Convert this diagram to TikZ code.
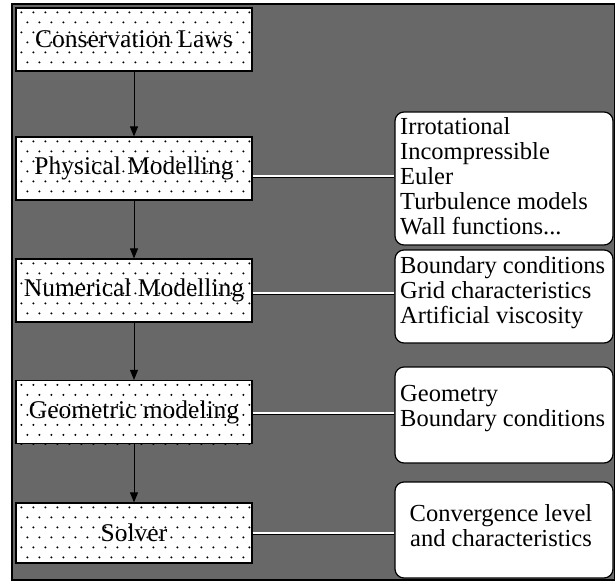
\documentclass[tikz,border=0pt]{standalone}
\usepackage{fontspec}
\setmainfont{Liberation Serif}
\usetikzlibrary{arrows.meta}
\definecolor{bggray}{RGB}{104,104,104}
\begin{document}
\begin{tikzpicture}[x=1pt,y=-1pt,
  lbox/.style={draw=black, line width=1.2pt, fill=white, minimum width=236pt, minimum height=63pt, inner sep=0pt},
  ltext/.style={font=\fontsize{25.5}{26}\selectfont, inner sep=0pt},
  rbox/.style={draw=black, line width=1.2pt, fill=white, rounded corners=9pt, minimum width=218pt, inner sep=0pt},
  rtext/.style={font=\fontsize{24.5}{25}\selectfont, inner sep=0pt},
  flow/.style={-{Triangle[width=8pt,length=10pt]}, line width=1pt},
  link/.style={draw=black, line width=0.7pt, double=white, double distance=1.6pt}
]
\useasboundingbox (0,0) rectangle (615,583);
\fill[bggray] (12,4) rectangle (615,580);
\draw[line width=1.2pt] (12,4) rectangle (615,580);

% left boxes
\node[lbox] (b1) at (134,39.5) {};
\node[lbox] (b2) at (134,168.5) {};
\node[lbox] (b3) at (134,290.5) {};
\node[lbox] (b4) at (134,412) {};
\node[lbox, minimum height=60pt] (b5) at (134,533) {};

\foreach \n in {b1,b2,b3,b4,b5} {
  \begin{scope}
    \clip (\n.south west) rectangle (\n.north east);
    \begin{scope}[shift={(\n.north west)}]
      \foreach \i in {0,...,19} {
        \foreach \j in {0,...,6} {
          \fill ({6+12*\i+6*mod(\j,2)},{5+10*\j}) circle (1.1pt);
        }
      }
    \end{scope}
  \end{scope}
}

\node[ltext] (t1) at (b1) {Conservation Laws};
\node[ltext] (t2) at (b2) {Physical Modelling};
\node[ltext] (t3) at (b3) {Numerical Modelling};
\node[ltext] (t4) at (b4) {Geometric modeling};
\node[ltext] (t5) at (b5) {Solver};

\draw[flow] (b1) -- (b2);
\draw[flow] (b2) -- (b3);
\draw[flow] (b3) -- (b4);
\draw[flow] (b4) -- (b5);

% right boxes
\node[rbox, minimum height=133pt] (ra) at (504,178.5) {};
\node[rbox, minimum height=93pt] (rb) at (504,296.5) {};
\node[rbox, minimum height=96pt] (rc) at (504,415) {};
\node[rbox, minimum height=96pt] (rd) at (504,530) {};

\draw[link] ([yshift=-7.5pt]b2.east) -- ([yshift=-7.5pt]b2.east -| ra.west);
\draw[link] ([yshift=-2.5pt]b3.east) -- ([yshift=-2.5pt]b3.east -| rb.west);
\draw[link] ([yshift=-1pt]b4.east) -- ([yshift=-1pt]b4.east -| rc.west);
\draw[link] (b5.east) -- (b5.east -| rd.west);

\node[rtext, align=left, anchor=west] (ta) at (400,176) {Irrotational\\Incompressible\\Euler\\Turbulence models\\Wall functions...};
\node[rtext, align=left, anchor=west] (tb) at (400,293) {Boundary conditions\\Grid characteristics\\Artificial viscosity};
\node[rtext, align=left, anchor=west] (tc) at (400,409) {Geometry\\Boundary conditions};
\node[rtext, align=center] (td) at (501,526) {Convergence level\\and characteristics};
\end{tikzpicture}
\end{document}
